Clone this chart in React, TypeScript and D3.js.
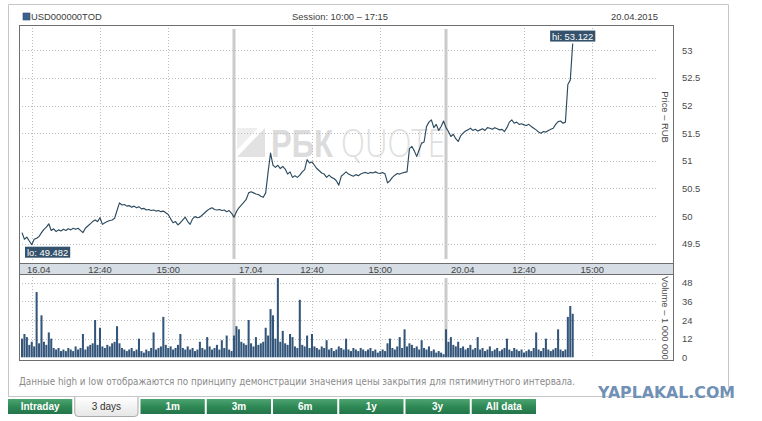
import { useEffect, useRef } from 'react'
import * as d3 from 'd3'

const W = 762, H = 421
const FONT = '"Liberation Sans", Arial, sans-serif'

// 5-minute bars, session 10:00 – 17:15
const BARS_PER_DAY = 87
const DAYS = ['16.04', '17.04', '20.04']
const TIME_LABELS = ['12:40', '15:00']
const EXTRA_GRID = '10:20'   // unlabeled gridline on the first day
const PRICE_TICKS = [49.5, 50, 50.5, 51, 51.5, 52, 52.5, 53]
const PRICE_TICK_LABELS = ['49.5', '50', '50.5', '51', '51.5', '52', '52.5', '53']
const VOL_TICKS = [0, 12, 24, 36, 48]
const BUTTONS = ['Intraday', '3 days', '1m', '3m', '6m', '1y', '3y', 'All data']
const ACTIVE_BUTTON = '3 days'

const price16 = [
  49.70, 49.58, 49.62, 49.55, 49.482, 49.58, 49.60, 49.63, 49.70, 49.76,
  49.80, 49.86, 49.74, 49.77, 49.72, 49.75, 49.73, 49.76, 49.74, 49.77,
  49.75, 49.78, 49.76, 49.78, 49.74, 49.70, 49.78, 49.82, 49.86, 49.90,
  49.93, 49.90, 49.97, 49.85, 49.88, 49.90, 49.92, 49.93, 49.96, 50.10,
  50.24, 50.20, 50.21, 50.18, 50.19, 50.16, 50.18, 50.15, 50.17, 50.13,
  50.14, 50.11, 50.12, 50.10, 50.11, 50.09, 50.10, 50.08, 50.09, 50.06,
  50.03, 49.95, 49.88, 49.90, 49.84, 49.88, 49.93, 49.98, 49.90, 49.85,
  49.95, 49.99, 49.97, 49.98, 50.02, 50.06, 50.10, 50.13, 50.15, 50.12,
  50.11, 50.12, 50.10, 50.11, 50.08, 50.10, 50.05,
]
const price17 = [
  49.98, 50.08, 50.15, 50.20, 50.25, 50.30, 50.42, 50.44, 50.42, 50.40,
  50.39, 50.36, 50.34, 50.42, 50.80, 51.14, 50.92, 50.88, 50.92, 50.86,
  50.90, 50.85, 50.76, 50.80, 50.70, 50.73, 50.70, 50.74, 50.80, 50.84,
  51.02, 50.96, 50.98, 50.92, 50.86, 50.82, 50.78, 50.76, 50.70, 50.74,
  50.70, 50.68, 50.64, 50.56, 50.72, 50.76, 50.80, 50.76, 50.74, 50.72,
  50.75, 50.73, 50.76, 50.78, 50.79, 50.77, 50.79, 50.78, 50.80, 50.78,
  50.77, 50.79, 50.76, 50.60, 50.64, 50.70, 50.74, 50.77, 50.76, 50.78,
  50.79, 50.80, 51.22, 51.26, 51.18, 51.08, 51.20, 51.32, 51.34, 51.62,
  51.70, 51.74, 51.60, 51.66, 51.55, 51.62, 51.72,
]
const price20 = [
  51.60, 51.53, 51.44, 51.48, 51.40, 51.35, 51.45, 51.50, 51.54, 51.56,
  51.59, 51.55, 51.57, 51.54, 51.56, 51.58, 51.55, 51.60, 51.59, 51.57,
  51.60, 51.58, 51.56, 51.57, 51.53, 51.60, 51.70, 51.74, 51.68, 51.70,
  51.66, 51.67, 51.65, 51.64, 51.66, 51.62, 51.59, 51.56, 51.52, 51.50,
  51.53, 51.52, 51.55, 51.57, 51.59, 51.66, 51.71, 51.72, 51.68, 51.70,
  52.38, 52.46, 53.122,
]

// volume, millions
const vol16 = [
  12, 15, 13, 8, 10, 7, 42, 9, 27, 10,
  8, 16, 12, 6, 5, 6, 4, 5, 4, 6,
  5, 4, 7, 5, 6, 15, 5, 7, 8, 9,
  24, 8, 19, 7, 6, 8, 7, 9, 10, 20,
  9, 6, 5, 4, 5, 6, 4, 5, 12, 4,
  3, 5, 4, 6, 16, 5, 6, 7, 26, 8,
  6, 7, 5, 6, 8, 15, 6, 5, 7, 5,
  6, 4, 5, 10, 6, 5, 13, 7, 5, 6,
  8, 5, 11, 6, 14, 5, 4,
]
const vol17 = [
  14, 20, 18, 10, 9, 8, 24, 9, 7, 13,
  8, 9, 10, 19, 14, 31, 27, 12, 51, 10,
  17, 9, 8, 15, 13, 7, 6, 37, 8, 7,
  14, 6, 15, 7, 6, 5, 7, 6, 11, 5,
  6, 4, 5, 7, 6, 5, 12, 5, 4, 6,
  5, 4, 6, 5, 4, 5, 6, 4, 5, 3,
  4, 5, 4, 9, 12, 6, 5, 7, 13, 6,
  18, 7, 9, 8, 6, 7, 5, 11, 6, 5,
  7, 4, 5, 3, 4, 3, 2,
]
const vol20 = [
  18, 10, 13, 8, 7, 10, 6, 7, 5, 6,
  8, 5, 6, 13, 5, 6, 4, 5, 7, 4,
  5, 6, 4, 5, 6, 12, 5, 4, 6, 5,
  4, 5, 3, 4, 5, 4, 6, 16, 5, 4,
  6, 12, 5, 4, 5, 6, 18, 5, 4, 5,
  26, 33, 28,
]

const tIdx = (d: number, hm: string) => {
  const [h, m] = hm.split(':').map(Number)
  return d * BARS_PER_DAY + (h * 60 + m - 600) / 5
}

export default function App() {
  const svgRef = useRef<SVGSVGElement>(null)

  useEffect(() => {
    const svg = d3.select(svgRef.current)
    svg.selectAll('*').remove()

    const prices = [price16, price17, price20]
    const vols = [vol16, vol17, vol20]
    const pts = prices.flatMap((arr, d) => arr.map((v, i) => ({ t: d * BARS_PER_DAY + i, v })))
    const vpts = vols.flatMap((arr, d) => arr.map((v, i) => ({ t: d * BARS_PER_DAY + i, v })))

    const L = 19, R = 673
    const x = d3.scaleLinear([0, DAYS.length * BARS_PER_DAY], [22, 658])
    const yP = d3.scaleLinear([49.5, 53], [243.7, 50.3])
    const yV = d3.scaleLinear([0, 48], [357.3, 282.7])
    const step = x(1) - x(0)

    svg.append('rect').attr('width', W).attr('height', H).attr('fill', '#fff')

    const defs = svg.append('defs')
    const g1 = defs.append('linearGradient').attr('id', 'btn').attr('x1', 0).attr('y1', 0).attr('x2', 0).attr('y2', 1)
    g1.append('stop').attr('offset', '0%').attr('stop-color', '#4ea472')
    g1.append('stop').attr('offset', '50%').attr('stop-color', '#2f8a55')
    g1.append('stop').attr('offset', '100%').attr('stop-color', '#23744a')
    const g2 = defs.append('linearGradient').attr('id', 'btnOn').attr('x1', 0).attr('y1', 0).attr('x2', 0).attr('y2', 1)
    g2.append('stop').attr('offset', '0%').attr('stop-color', '#ffffff')
    g2.append('stop').attr('offset', '100%').attr('stop-color', '#e6e6e6')

    // outer panel
    svg.append('path').attr('d', 'M8.5,397 V4.5 H728.5 V397')
      .attr('fill', 'none').attr('stroke', '#c6c6c6')
    svg.append('line').attr('x1', 8).attr('x2', 728).attr('y1', 396.5).attr('y2', 396.5).attr('stroke', '#c6c6c6')

    // header
    svg.append('rect').attr('x', 23).attr('y', 13).attr('width', 7).attr('height', 7)
      .attr('fill', '#3b6190').attr('stroke', '#2c4a70').attr('stroke-width', 0.6)
    const hdr = svg.append('g').attr('font-family', FONT).attr('font-size', 9.4).attr('fill', '#3c3c3c')
    hdr.append('text').attr('x', 31).attr('y', 19.5).text('USD000000TOD')
    hdr.append('text').attr('x', 340).attr('y', 19.5).attr('text-anchor', 'middle').text('Session: 10:00 – 17:15')
    hdr.append('text').attr('x', 658).attr('y', 19.5).attr('text-anchor', 'end').text('20.04.2015')

    // axis band
    svg.append('rect').attr('x', L).attr('y', 263.5).attr('width', R - L).attr('height', 11).attr('fill', '#d6dde4')

    // watermark
    const wm = svg.append('g')
    wm.append('polygon').attr('points', '237,157 265,128 265,157').attr('fill', '#e2e2e2')
    wm.append('polygon').attr('points', '237,128 258,128 237,150').attr('fill', '#eeeeee')
    const wt = wm.append('text').attr('x', 271).attr('y', 157).attr('font-size', 38)
    wt.append('tspan').attr('font-family', FONT).attr('font-weight', 'bold').attr('fill', '#dcdcdc')
      .attr('textLength', 62).attr('lengthAdjust', 'spacingAndGlyphs').text('РБК')
    wt.append('tspan').attr('x', 341).attr('font-family', '"Open Sans", Lato, sans-serif').attr('font-weight', 300)
      .attr('fill', '#e0e0e0').attr('textLength', 104).attr('lengthAdjust', 'spacingAndGlyphs').text('QUOTE')

    // grid
    const grid = svg.append('g').attr('stroke', '#bdbdbd').attr('stroke-dasharray', '1,2').attr('stroke-width', 1)
    const gridXs: number[] = [x(tIdx(0, EXTRA_GRID))]
    DAYS.forEach((_, d) => TIME_LABELS.forEach((t) => gridXs.push(x(tIdx(d, t)))))
    gridXs.forEach((gx) => {
      const px = Math.round(gx) + 0.5
      grid.append('line').attr('x1', px).attr('x2', px).attr('y1', 28).attr('y2', 260)
      grid.append('line').attr('x1', px).attr('x2', px).attr('y1', 277).attr('y2', 358)
    })
    PRICE_TICKS.forEach((p) => {
      const py = Math.round(yP(p)) + 0.5
      grid.append('line').attr('x1', 22).attr('x2', 658).attr('y1', py).attr('y2', py)
    })
    VOL_TICKS.filter((v) => v > 0).forEach((v) => {
      const py = Math.round(yV(v)) + 0.5
      grid.append('line').attr('x1', 22).attr('x2', 658).attr('y1', py).attr('y2', py)
    })

    // day separators
    DAYS.slice(1).forEach((_, i) => {
      const sx = x((i + 1) * BARS_PER_DAY)
      svg.append('line').attr('x1', sx).attr('x2', sx).attr('y1', 29).attr('y2', 259).attr('stroke', '#cbcbcb').attr('stroke-width', 3)
      svg.append('line').attr('x1', sx).attr('x2', sx).attr('y1', 278).attr('y2', 357).attr('stroke', '#cbcbcb').attr('stroke-width', 3)
    })

    // price line
    const line = d3.line<{ t: number; v: number }>().x((d) => x(d.t)).y((d) => yP(d.v))
    svg.append('path').datum(pts).attr('d', line).attr('fill', 'none')
      .attr('stroke', '#2d4b5f').attr('stroke-width', 1.15).attr('stroke-linejoin', 'round')

    // volume bars
    svg.append('g').selectAll('rect').data(vpts).join('rect')
      .attr('x', (d) => x(d.t) - step / 2 + 0.2).attr('width', step - 0.4)
      .attr('y', (d) => yV(d.v)).attr('height', (d) => yV(0) - yV(d.v))
      .attr('fill', '#33557a')

    // hi / lo tags
    const tag = (p: { t: number; v: number }, label: string, above: boolean) => {
      const tg = svg.append('g')
      const txt = tg.append('text').attr('font-family', FONT).attr('font-size', 9.4).attr('fill', '#fff').text(label)
      const tw = (txt.node() as SVGTextElement).getComputedTextLength()
      const bw = tw + 4, bh = 11
      let bx = x(p.t) - bw / 2
      bx = Math.max(L + 6, Math.min(R - bw - 2, bx))
      const by = above ? yP(p.v) - 2 - bh : yP(p.v) + 2
      tg.insert('rect', 'text').attr('x', bx).attr('y', by).attr('width', bw).attr('height', bh).attr('fill', '#35526c')
      txt.attr('x', bx + 2).attr('y', by + 9)
    }
    const hi = pts.reduce((a, b) => (b.v > a.v ? b : a))
    const lo = pts.reduce((a, b) => (b.v < a.v ? b : a))
    tag(hi, `hi: ${hi.v.toFixed(3)}`, true)
    tag(lo, `lo: ${lo.v.toFixed(3)}`, false)

    // frames
    const frame = svg.append('g').attr('stroke', '#6e6e6e').attr('fill', 'none')
    frame.append('line').attr('x1', L).attr('x2', R).attr('y1', 25.5).attr('y2', 25.5)
    frame.append('line').attr('x1', L).attr('x2', R).attr('y1', 263.5).attr('y2', 263.5)
    frame.append('line').attr('x1', L).attr('x2', R).attr('y1', 274.5).attr('y2', 274.5)
    frame.append('line').attr('x1', L).attr('x2', R).attr('y1', 360.5).attr('y2', 360.5)
    frame.append('line').attr('x1', L + 0.5).attr('x2', L + 0.5).attr('y1', 25).attr('y2', 361)
    frame.append('line').attr('x1', R + 0.5).attr('x2', R + 0.5).attr('y1', 25).attr('y2', 361)

    // time axis labels
    const ax = svg.append('g').attr('font-family', FONT).attr('font-size', 9.4).attr('fill', '#444')
    DAYS.forEach((day, d) => {
      ax.append('text').attr('x', x(d * BARS_PER_DAY) + 5).attr('y', 272.5).text(day)
      TIME_LABELS.forEach((t) => {
        ax.append('text').attr('x', x(tIdx(d, t))).attr('y', 272.5).attr('text-anchor', 'middle').text(t)
      })
    })

    // right axes
    const ra = svg.append('g').attr('font-family', FONT).attr('font-size', 9.4).attr('fill', '#4a4a4a')
    PRICE_TICKS.forEach((p, i) => {
      ra.append('text').attr('x', 682).attr('y', yP(p) + 3.5).text(PRICE_TICK_LABELS[i])
    })
    VOL_TICKS.forEach((v) => {
      ra.append('text').attr('x', 682).attr('y', yV(v) + 3.5).text(String(v))
    })
    ra.append('text').attr('transform', 'translate(662,117) rotate(90)').attr('text-anchor', 'middle').text('Price – RUB')
    ra.append('text').attr('transform', 'translate(662,318) rotate(90)').attr('text-anchor', 'middle').text('Volume – 1 000 000')

    // footnote
    svg.append('text').attr('x', 19).attr('y', 384.5).attr('font-family', '"DejaVu Sans", Verdana, sans-serif')
      .attr('font-size', 9.6).attr('fill', '#8a8a8a').attr('textLength', 556).attr('lengthAdjust', 'spacingAndGlyphs')
      .text('Данные high и low отображаются по принципу демонстрации значения цены закрытия для пятиминутного интервала.')

    // period buttons
    const bx = d3.scaleBand(BUTTONS, [8, 8 + 66 * BUTTONS.length]).paddingInner(0.03).paddingOuter(0)
    BUTTONS.forEach((b) => {
      const on = b === ACTIVE_BUTTON
      const gx = bx(b)!
      const bw = bx.bandwidth()
      if (on) {
        svg.append('path')
          .attr('d', `M${gx + 0.5},397 V413 Q${gx + 0.5},416.5 ${gx + 4},416.5 H${gx + bw - 4} Q${gx + bw - 0.5},416.5 ${gx + bw - 0.5},413 V397`)
          .attr('fill', 'url(#btnOn)').attr('stroke', '#a9a9a9')
      } else {
        svg.append('rect').attr('x', gx).attr('y', 399).attr('width', bw).attr('height', 15).attr('fill', 'url(#btn)')
      }
      svg.append('text').attr('x', gx + bw / 2).attr('y', 409.5).attr('text-anchor', 'middle')
        .attr('font-family', FONT).attr('font-size', 10).attr('font-weight', on ? 'normal' : 'bold')
        .attr('fill', on ? '#333' : '#fff').text(b)
    })

    // site stamp
    svg.append('text').attr('x', 598).attr('y', 397.5).attr('font-family', '"DejaVu Sans", sans-serif')
      .attr('font-weight', 'bold').attr('font-size', 15).attr('fill', '#7090b5')
      .attr('stroke', '#ffffff').attr('stroke-width', 0.6).attr('paint-order', 'stroke')
      .attr('textLength', 137).attr('lengthAdjust', 'spacingAndGlyphs').text('YAPLAKAL.COM')
  }, [])

  return <svg ref={svgRef} width={W} height={H} style={{ position: 'absolute', left: 0, top: 0, display: 'block' }} />
}
